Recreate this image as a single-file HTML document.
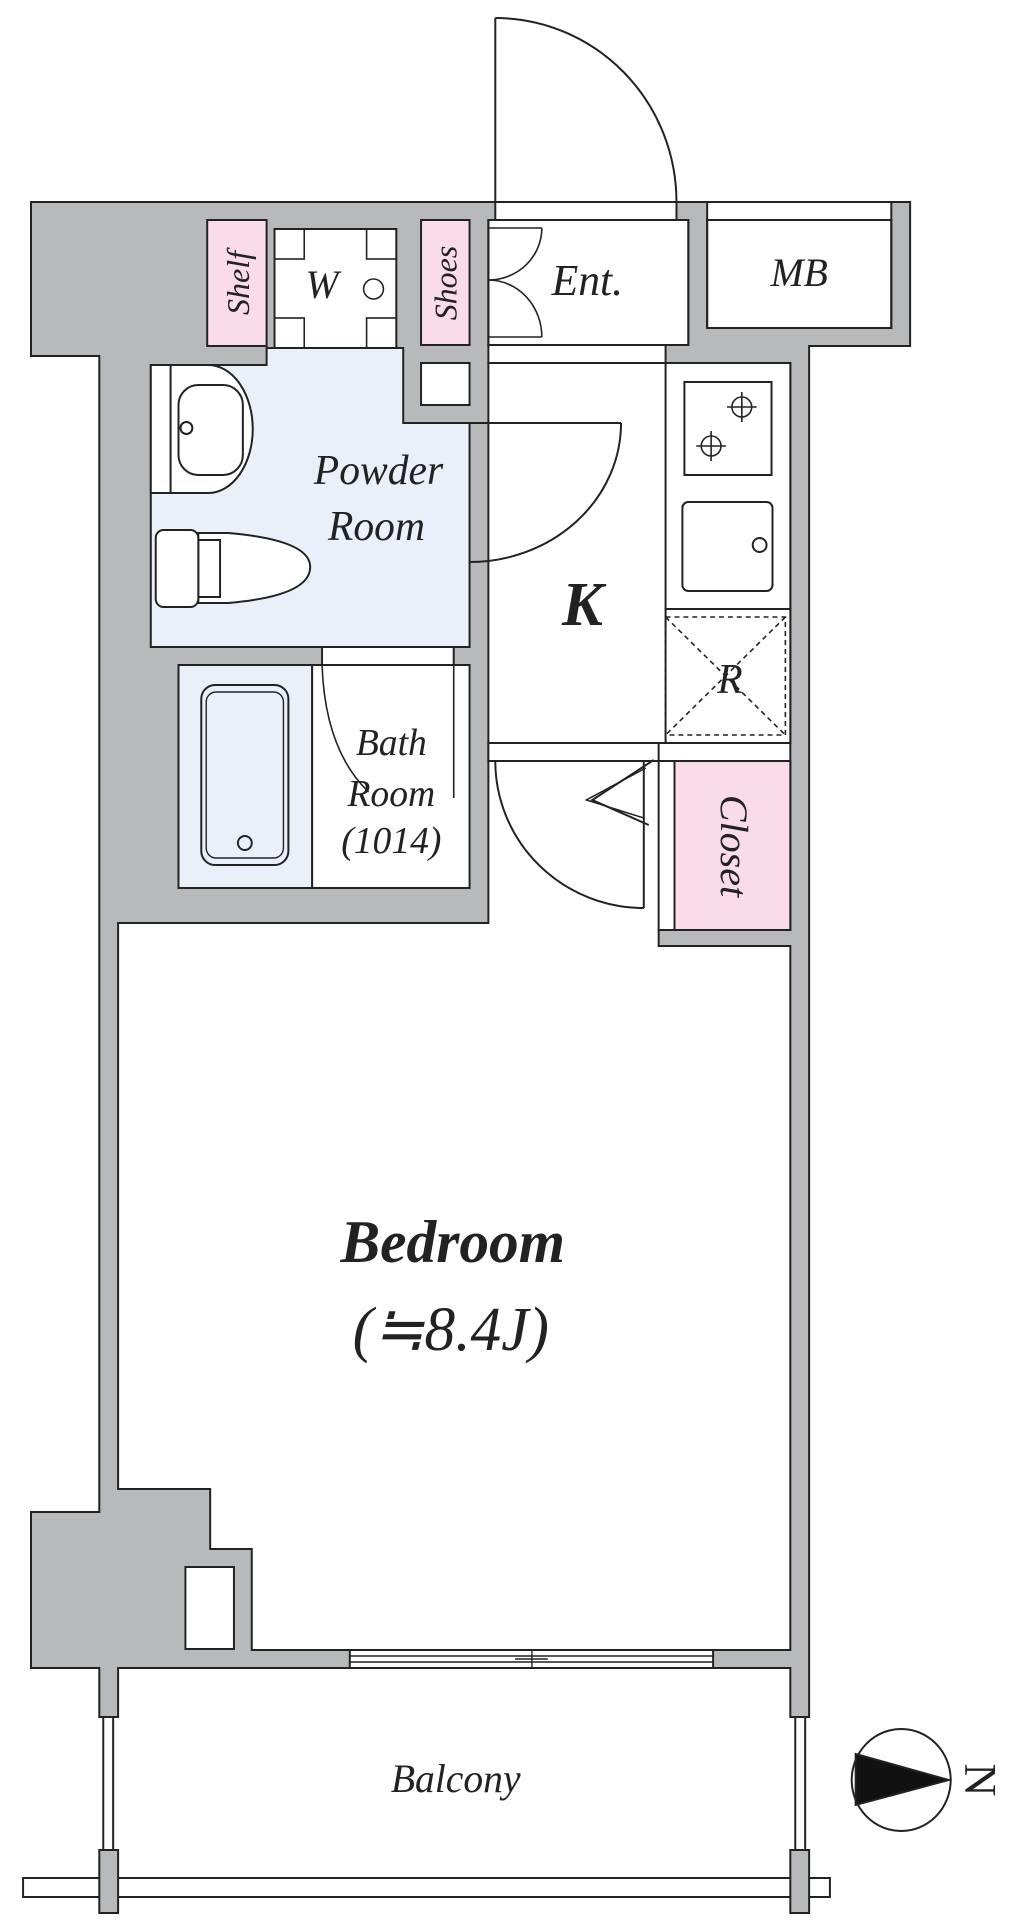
<!DOCTYPE html>
<html><head><meta charset="utf-8"><style>
html,body{margin:0;padding:0;background:#fff}
svg{display:block}
text{font-family:"Liberation Serif",serif;font-style:italic;fill:#222}
</style></head><body>
<svg width="1036" height="1920" viewBox="0 0 1036 1920" xmlns="http://www.w3.org/2000/svg" stroke="#222" stroke-width="2" fill="none">
<g transform="translate(0.3,0) scale(0.99,1)">
<!-- front door -->
<line x1="500" y1="18" x2="500" y2="202"/>
<path d="M500 18 A183 184 0 0 1 683 202"/>
<!-- gray footprint -->
<polygon fill="#b7b9bb" points="31,202 919,202 919,346 817,346 817,1717 798,1717 798,1668 119,1668 119,1717 100,1717 100,1668 31,1668 31,1512 100,1512 100,356 31,356"/>
<!-- entrance opening -->
<rect x="500" y="202" width="183" height="18" fill="#fff"/>
<rect x="714" y="202" width="186" height="18" fill="#fff"/>
<rect x="493" y="220" width="202" height="125" fill="#fff"/>
<rect x="493" y="345" width="179" height="18" fill="#fff"/>
<rect x="714" y="220" width="186" height="108" fill="#fff"/>
<!-- main white -->
<polygon fill="#fff" points="119,923 493,923 493,363 798,363 798,930 665,930 665,946 798,946 798,1650 254,1650 254,1549 212,1549 212,1489 119,1489"/>
<!-- kitchen counter -->
<rect x="672" y="363" width="126" height="246" fill="#fff"/>
<rect x="691" y="382" width="88" height="93"/>
<g stroke-width="1.6">
<circle cx="749" cy="407" r="10"/><line x1="749" y1="392" x2="749" y2="422"/><line x1="734" y1="407" x2="764" y2="407"/>
<circle cx="718" cy="446" r="10"/><line x1="718" y1="431" x2="718" y2="461"/><line x1="703" y1="446" x2="733" y2="446"/>
</g>
<rect x="689" y="502" width="91" height="89" rx="6"/>
<circle cx="767" cy="545" r="7"/>
<rect x="672" y="609" width="126" height="134" fill="#fff"/>
<rect x="672" y="617" width="121" height="118" stroke-dasharray="5,4" stroke-width="1.6"/>
<line x1="672" y1="617" x2="793" y2="735" stroke-dasharray="5,4" stroke-width="1.6"/>
<line x1="793" y1="617" x2="672" y2="735" stroke-dasharray="5,4" stroke-width="1.6"/>
<!-- partition window between kitchen and corridor -->
<rect x="493" y="743" width="172" height="18" fill="#fff"/>
<line x1="493" y1="743" x2="798" y2="743"/>
<!-- closet -->
<rect x="665" y="761" width="16" height="169" fill="#fff"/>
<rect x="681" y="761" width="117" height="169" fill="#f9dce8"/>
<polyline points="660,760 598,800 655,825" stroke-width="2"/>
<polyline points="652,768 592,800 650,818" stroke-width="1.5"/>
<!-- corridor door -->
<line x1="650" y1="761" x2="650" y2="908"/>
<path d="M500 761 A150 147 0 0 0 650 908"/>
<!-- Ent -->
<rect x="493" y="220" width="202" height="125"/>
<g stroke-width="1.6">
<line x1="493" y1="228" x2="547" y2="228"/>
<line x1="493" y1="337" x2="547" y2="337"/>
<path d="M547 228 A54 52 0 0 1 493 280"/>
<path d="M493 280 A54 57 0 0 1 547 337"/>
</g>
<rect x="714" y="220" width="186" height="108"/>
<!-- shelf, W, shoes -->
<rect x="209" y="220" width="60" height="126" fill="#f9dce8"/>
<rect x="277" y="229" width="123" height="119" fill="#fff"/>
<g stroke-width="1.6">
<rect x="277" y="229" width="30" height="30"/><rect x="370" y="229" width="30" height="30"/>
<rect x="277" y="318" width="30" height="30"/><rect x="370" y="318" width="30" height="30"/>
<circle cx="377" cy="289" r="10"/>
</g>
<rect x="425" y="220" width="49" height="125" fill="#f9dce8"/>
<rect x="425" y="363" width="49" height="42" fill="#fff"/>
<!-- powder room -->
<polygon fill="#eaf0f9" points="152,365 269,365 269,348 407,348 407,423 474,423 474,647 152,647"/>
<path d="M152 365 L210 365 A45 64 0 0 1 210 493 L152 493 Z" fill="#fff"/>
<line x1="172" y1="365" x2="172" y2="493"/>
<rect x="180" y="385" width="65" height="90" rx="20"/>
<circle cx="188" cy="428" r="6"/>
<path d="M200 533 L230 533 Q313 540 313 567 Q313 596 230 603 L200 603 Z" fill="#fff"/>
<rect x="157" y="530" width="43" height="77" rx="8" fill="#fff"/>
<polyline points="200,540 222,540 222,597 200,597"/>
<line x1="474" y1="423" x2="627" y2="423"/>
<path d="M627 423 A153 139 0 0 1 474 562"/>
<!-- bath -->
<rect x="325" y="647" width="133" height="18" fill="#fff"/>
<rect x="180" y="665" width="135" height="223" fill="#eaf0f9"/>
<rect x="315" y="665" width="159" height="223" fill="#fff"/>
<rect x="203" y="685" width="88" height="180" rx="14"/>
<rect x="208" y="692" width="78" height="166" rx="10" stroke-width="1.4"/>
<circle cx="247" cy="843" r="7"/>
<path d="M325 665 Q328 750 372 792" stroke-width="1.6"/>
<line x1="458" y1="665" x2="458" y2="798" stroke-width="1.6"/>
<!-- bedroom window -->
<rect x="353" y="1650" width="367" height="18" fill="#fff"/>
<line x1="353" y1="1656" x2="720" y2="1656" stroke-width="1.4"/>
<line x1="353" y1="1662" x2="720" y2="1662" stroke-width="1.4"/>
<line x1="537" y1="1650" x2="537" y2="1668" stroke-width="1.4"/>
<line x1="520" y1="1659" x2="553" y2="1659" stroke-width="1.4"/>
<rect x="187" y="1567" width="49" height="82" fill="#fff"/>
<!-- balcony -->
<rect x="104" y="1717" width="10" height="133" fill="#fff"/>
<rect x="803" y="1717" width="10" height="133" fill="#fff"/>
<rect x="23" y="1878" width="815" height="19" fill="#fff"/>
<rect x="100" y="1850" width="19" height="63" fill="#b7b9bb"/>
<rect x="798" y="1850" width="19" height="63" fill="#b7b9bb"/>
<!-- compass -->
<ellipse cx="910" cy="1780" rx="50" ry="51"/>
<polygon points="864,1754 958,1780 864,1805" fill="#111"/>
<text x="985" y="1780" font-size="46" transform="rotate(90 985 1780)" text-anchor="middle" dominant-baseline="middle" stroke="none" style="font-style:normal">N</text>
<!-- labels -->
<g stroke="none">
<text x="593" y="295" font-size="44" text-anchor="middle">Ent.</text>
<text x="807" y="286" font-size="40" text-anchor="middle">MB</text>
<text x="325" y="298" font-size="40" text-anchor="middle">W</text>
<text x="0" y="0" font-size="32" text-anchor="middle" transform="translate(251,283) rotate(-90)">Shelf</text>
<text x="0" y="0" font-size="32" text-anchor="middle" transform="translate(461,283) rotate(-90)">Shoes</text>
<text x="382" y="484" font-size="42" text-anchor="middle">Powder</text>
<text x="380" y="540" font-size="42" text-anchor="middle">Room</text>
<text x="588" y="625" font-size="62" font-weight="bold" text-anchor="middle">K</text>
<text x="737" y="693" font-size="42" text-anchor="middle">R</text>
<text x="395" y="755" font-size="38" text-anchor="middle">Bath</text>
<text x="395" y="806" font-size="38" text-anchor="middle">Room</text>
<text x="395" y="853" font-size="38" text-anchor="middle">(1014)</text>
<text x="0" y="0" font-size="40" text-anchor="middle" transform="translate(728,846) rotate(90)">Closet</text>
<text x="457" y="1262" font-size="60" font-weight="bold" text-anchor="middle">Bedroom</text>
<text x="455" y="1350" font-size="62" text-anchor="middle">(≒8.4J)</text>
<text x="460" y="1792" font-size="40" text-anchor="middle">Balcony</text>
</g>
</g>
</svg>
</body></html>
